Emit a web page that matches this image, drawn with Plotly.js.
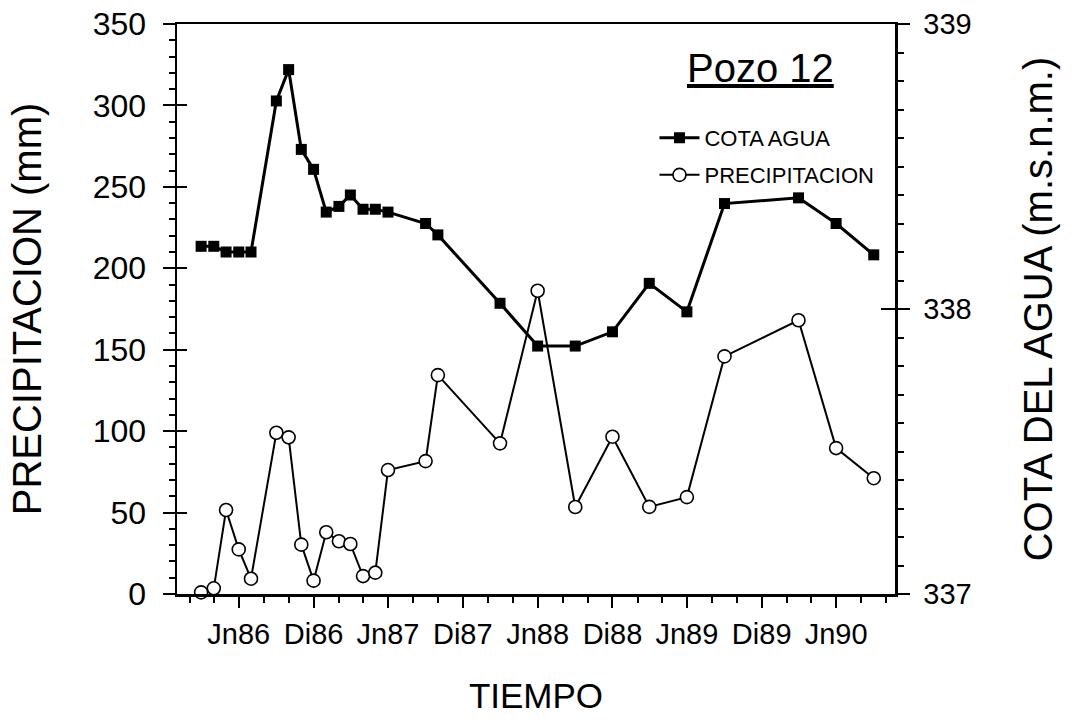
<!DOCTYPE html>
<html>
<head>
<meta charset="utf-8">
<script src="https://cdn.plot.ly/plotly-3.0.1.min.js"></script>
<style>html,body{margin:0;padding:0;background:#fff;}#chart{width:1082px;height:726px;}</style>
</head>
<body>
<div id="chart"></div>
<script>
// Sampling dates (monthly observations)
const fechas = ["1986-03-01","1986-04-01","1986-05-01","1986-06-01","1986-07-01","1986-09-01","1986-10-01","1986-11-01","1986-12-01","1987-01-01","1987-02-01","1987-03-01","1987-04-01","1987-05-01","1987-06-01","1987-09-01","1987-10-01","1988-03-01","1988-06-01","1988-09-01","1988-12-01","1989-03-01","1989-06-01","1989-09-01","1990-03-01","1990-06-01","1990-09-01"];
// Water level (m.s.n.m.), right axis
const cotaAgua = [338.22,338.22,338.20,338.20,338.20,338.73,338.84,338.56,338.49,338.34,338.36,338.40,338.35,338.35,338.34,338.30,338.26,338.02,337.87,337.87,337.92,338.09,337.99,338.37,338.39,338.30,338.19];
// Precipitation (mm), left axis
const precipitacion = [1,3.5,51.6,27.4,9.4,99,96.2,30.3,8.2,37.9,32.4,30.7,11,13.1,76.1,81.6,134.4,92.5,186.2,53.4,96.6,53.5,59.5,145.9,168.1,89.6,71.1];
// X tick labels
const tickFechas = ["1986-06-01","1986-12-01","1987-06-01","1987-12-01","1988-06-01","1988-12-01","1989-06-01","1989-12-01","1990-06-01"];
const tickTextos = ["Jn86","Di86","Jn87","Di87","Jn88","Di88","Jn89","Di89","Jn90"];

const FONT = "Liberation Sans, Arial, Helvetica, sans-serif";

const traces = [
  {
    x: fechas, y: precipitacion, name: "PRECIPITACION", type: "scatter", mode: "lines+markers",
    yaxis: "y", legend: "legend2",
    line: {color: "#000", width: 2},
    marker: {symbol: "circle", size: 13, color: "#fff", line: {color: "#000", width: 1.6}},
    cliponaxis: false
  },
  {
    x: fechas, y: cotaAgua, name: "COTA AGUA", type: "scatter", mode: "lines+markers",
    yaxis: "y2", legend: "legend",
    line: {color: "#000", width: 3},
    marker: {symbol: "square", size: 11, color: "#000"},
    cliponaxis: false
  },
  // empty helpers so the inner-tick axes are drawn
  {x: [], y: [], yaxis: "y3", type: "scatter", mode: "lines", showlegend: false, hoverinfo: "skip"},
  {x: [], y: [], yaxis: "y4", type: "scatter", mode: "lines", showlegend: false, hoverinfo: "skip"}
];

const layout = {
  width: 1082, height: 726,
  margin: {l: 177, r: 187, t: 24, b: 132},
  paper_bgcolor: "#fff", plot_bgcolor: "#fff",
  font: {family: FONT, color: "#000"},
  showlegend: true,
  xaxis: {
    type: "date",
    range: ["1986-01-01", "1990-10-23"],
    tickmode: "array", tickvals: tickFechas, ticktext: tickTextos,
    ticks: "outside", ticklen: 11, tickwidth: 2, tickcolor: "#000",
    ticklabelstandoff: 2,
    minor: {tickmode: "linear", tick0: "1986-02-01", dtick: "M2", ticks: "outside", ticklen: 6, tickwidth: 2, tickcolor: "#000", showgrid: false},
    tickfont: {size: 29, family: FONT},
    showline: true, linecolor: "#000", linewidth: 2.5, mirror: true,
    showgrid: false, zeroline: false,
    title: {text: "TIEMPO", font: {size: 35, family: FONT}, standoff: 34}
  },
  yaxis: {
    range: [0, 350], tickmode: "linear", tick0: 0, dtick: 50,
    ticks: "outside", ticklen: 12, tickwidth: 2, tickcolor: "#000",
    ticklabelstandoff: 10,
    minor: {tickmode: "linear", dtick: 10, ticks: "outside", ticklen: 6, tickwidth: 2, tickcolor: "#000", showgrid: false},
    tickfont: {size: 32, family: FONT},
    showline: true, linecolor: "#000", linewidth: 2.5,
    showgrid: false, zeroline: false,
    title: {text: "PRECIPITACION (mm)", font: {size: 40, family: FONT}, standoff: 39}
  },
  yaxis2: {
    overlaying: "y", side: "right",
    range: [337, 339], tickmode: "linear", tick0: 337, dtick: 1,
    ticks: "outside", ticklen: 12, tickwidth: 2, tickcolor: "#000",
    ticklabelstandoff: 8,
    minor: {tickmode: "linear", dtick: 0.1, ticks: "outside", ticklen: 6, tickwidth: 2, tickcolor: "#000", showgrid: false},
    tickfont: {size: 29, family: FONT},
    showline: true, linecolor: "#000", linewidth: 2.5,
    showgrid: false, zeroline: false,
    title: {text: "COTA DEL AGUA (m.s.n.m.)", font: {size: 40, family: FONT}, standoff: 54}
  },
  // inner halves of the crossing major ticks
  yaxis3: {
    overlaying: "y", side: "left", anchor: "x",
    range: [0, 350], tickmode: "linear", tick0: 0, dtick: 50,
    ticks: "inside", ticklen: 10, tickwidth: 2, tickcolor: "#000",
    showticklabels: false, showline: false, showgrid: false, zeroline: false
  },
  yaxis4: {
    overlaying: "y", side: "right", anchor: "x",
    range: [337, 339], tickmode: "linear", tick0: 337, dtick: 1,
    ticks: "inside", ticklen: 14, tickwidth: 2, tickcolor: "#000",
    showticklabels: false, showline: false, showgrid: false, zeroline: false
  },
  legend: {
    x: 0.665, y: 0.80, xanchor: "left", yanchor: "middle",
    bgcolor: "rgba(0,0,0,0)", borderwidth: 0, itemwidth: 40,
    font: {size: 22, family: FONT, color: "#000"}
  },
  legend2: {
    x: 0.665, y: 0.735, xanchor: "left", yanchor: "middle",
    bgcolor: "rgba(0,0,0,0)", borderwidth: 0, itemwidth: 40,
    font: {size: 22, family: FONT, color: "#000"}
  },
  annotations: [
    {
      text: "<u>Pozo 12</u>", xref: "paper", yref: "paper",
      x: 0.812, y: 0.922, xanchor: "center", yanchor: "middle",
      showarrow: false, font: {size: 40, family: FONT, color: "#000"}
    }
  ]
};

Plotly.newPlot("chart", traces, layout, {staticPlot: true, displayModeBar: false});
</script>
</body>
</html>
